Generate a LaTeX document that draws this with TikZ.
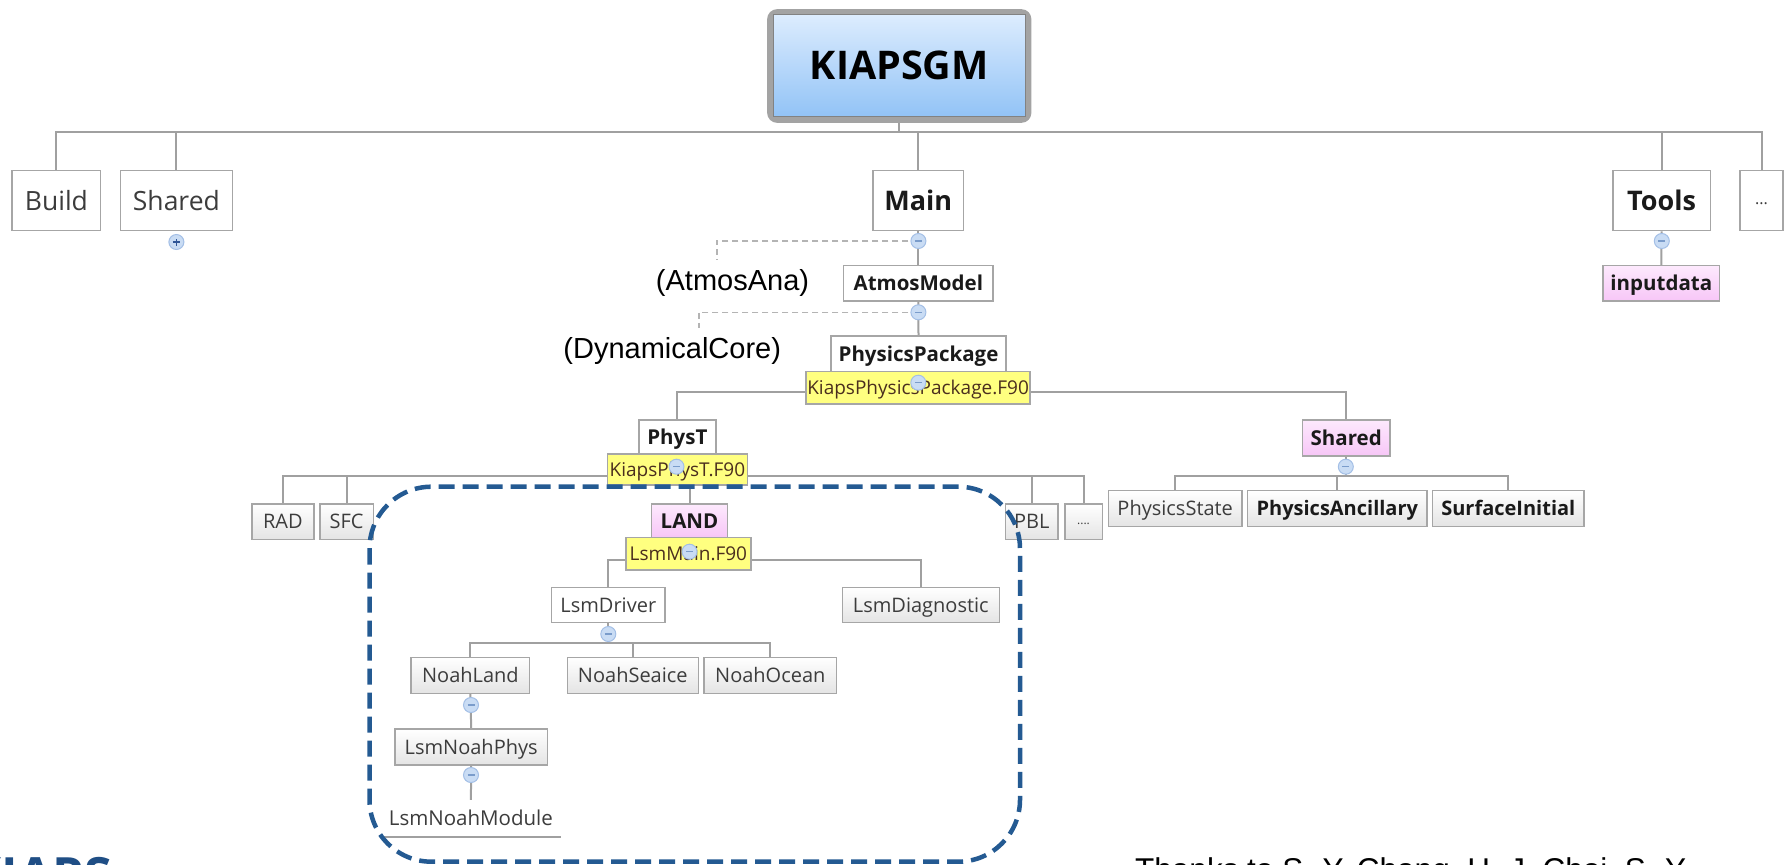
\documentclass[tikz,border=0pt]{standalone}
\usepackage{fontspec}
\setmainfont{Open Sans}
\newfontfamily\arialf{Liberation Sans}
\pgfdeclarelayer{bg}
\pgfsetlayers{bg,main}
\definecolor{bgrey}{HTML}{A6A6A6}
\definecolor{cgrey}{HTML}{A0A0A0}
\definecolor{tgrey}{HTML}{3C3C3C}
\definecolor{tblack}{HTML}{1A1A1A}
\definecolor{ggrey}{HTML}{E4E4E4}
\definecolor{ptop}{HTML}{FDE9FD}
\definecolor{pbot}{HTML}{F7C6F7}
\definecolor{yell}{HTML}{FFFF80}
\definecolor{ytext}{HTML}{4A2E1E}
\definecolor{tfill}{HTML}{C9DCF4}
\definecolor{tborder}{HTML}{A3BFE6}
\definecolor{tsign}{HTML}{7A9CCB}
\definecolor{psign}{HTML}{2F5597}
\definecolor{fgrey}{HTML}{A3A3A3}
\definecolor{rtop}{HTML}{DCECFE}
\definecolor{rbot}{HTML}{92C3F6}
\definecolor{dblue}{HTML}{245A92}
\definecolor{dgrey}{HTML}{B4B4B4}
\definecolor{logob}{HTML}{1F4E85}
\tikzset{
  box/.style={draw=bgrey, line width=1.5, inner sep=0, text=tgrey, anchor=center},
  lvA/.style={box, fill=white, minimum height=60, text height=19, text depth=0,
    font=\fontsize{26.5}{30}\selectfont},
  lvAb/.style={lvA, text=tblack, font=\fontsize{27}{30}\selectfont\bfseries},
  wbox/.style={box, fill=white, text=tblack, text height=14.6, text depth=0,
    font=\fontsize{20.5}{24}\selectfont\bfseries},
  wboxr/.style={box, fill=white, text height=14.3, text depth=0,
    font=\fontsize{20}{24}\selectfont},
  gbox/.style={box, top color=white, bottom color=ggrey, minimum height=35.3,
    text height=14.3, text depth=0, font=\fontsize{20}{24}\selectfont},
  gboxb/.style={gbox, text=tblack, font=\fontsize{20}{24}\selectfont\bfseries},
  pbox/.style={box, top color=ptop, bottom color=pbot, text=tblack, text height=14.6,
    text depth=0, font=\fontsize{20.5}{24}\selectfont\bfseries},
  ybox/.style={box, fill=yell, text=ytext, text height=13.6, text depth=0,
    font=\fontsize{19}{22}\selectfont},
  conn/.style={draw=cgrey, line width=2},
  dashg/.style={draw=dgrey, line width=1.6, dash pattern=on 6pt off 4pt},
  toggle/.style={circle, minimum size=15, inner sep=0, fill=tfill, draw=tborder, line width=1,
    path picture={\draw[tsign, line width=1.2]
      ([xshift=-3.5pt]path picture bounding box.center) --
      ([xshift=3.5pt]path picture bounding box.center);}},
  plustog/.style={circle, minimum size=15, inner sep=0, fill=tfill, draw=tborder, line width=1,
    path picture={\draw[psign, line width=1.3]
      ([xshift=-3.5pt]path picture bounding box.center) --
      ([xshift=3.5pt]path picture bounding box.center)
      ([yshift=-3.5pt]path picture bounding box.center) --
      ([yshift=3.5pt]path picture bounding box.center);}},
  arialtxt/.style={inner sep=0, text=black, font=\arialf\fontsize{29}{32}\selectfont},
}
\begin{document}
\begin{tikzpicture}[x=1pt,y=-1pt]
\useasboundingbox (0,0) rectangle (1784,864);
\begin{pgfonlayer}{bg}
\fill[white] (0,0) rectangle (1784,864);
\end{pgfonlayer}

% root
\node[draw=fgrey, line width=5.8, rounded corners=7, minimum width=258.3, minimum height=107.8,
  inner sep=0] (rootframe) at (899.25,66) {};
\node[draw=fgrey!80!black, line width=1, top color=rtop, bottom color=rbot, inner sep=0,
  minimum width=252.6, minimum height=101.7, text=black, text height=28, text depth=0,
  font=\fontsize{39.5}{42}\selectfont\bfseries] (root) at (899.3,65.85) {KIAPSGM};

% level 1
\node[lvA, minimum width=88.4] (build) at (56.4,200.7) {Build};
\node[lvA, minimum width=111.8] (shared1) at (176.4,200.7) {Shared};
\node[lvAb, minimum width=90.7] (main) at (918.3,200.7) {Main};
\node[lvAb, minimum width=97.5] (tools) at (1661.5,200.7) {Tools};
\node[lvA, minimum width=43, text height=8, font=\fontsize{16}{18}\selectfont] (more1) at (1761.5,200.7) {...};

% main chain
\node[wbox, minimum width=149.2, minimum height=35.3] (atmos) at (918.3,283.3) {AtmosModel};
\node[wbox, minimum width=175, minimum height=35.7] (physpkg) at (918.5,353.8) {PhysicsPackage};
\node[ybox, minimum width=223.8, minimum height=32.3] (kpp) at (918.1,387.8) {KiapsPhysicsPackage.F90};
\node[wbox, minimum width=77, minimum height=34] (physt) at (677.4,437) {PhysT};
\node[ybox, minimum width=139.7, minimum height=31] (kpt) at (677.4,469.5) {KiapsPhysT.F90};
\node[gbox, minimum width=62.3] (rad) at (282.9,521.7) {RAD};
\node[gbox, minimum width=53.6] (sfc) at (346.6,521.7) {SFC};
\node[pbox, minimum width=75.8, minimum height=33.3] (land) at (689.5,520.7) {LAND};
\node[ybox, minimum width=124.7, minimum height=32.7] (lsmmain) at (688.4,553.7) {LsmMain.F90};
\node[gbox, minimum width=52.6] (pbl) at (1031.7,521.7) {PBL};
\node[gbox, minimum width=37.5, text height=6, font=\fontsize{12}{14}\selectfont] (more2) at (1083.5,521.7) {....};
\node[wboxr, minimum width=113.3, minimum height=35] (lsmdrv) at (608.3,605.2) {LsmDriver};
\node[gbox, minimum width=157, minimum height=35] (lsmdiag) at (920.8,605.2) {LsmDiagnostic};
\node[gbox, minimum width=118.4, minimum height=36] (nland) at (470.4,675.3) {NoahLand};
\node[gbox, minimum width=131, minimum height=36] (nsea) at (632.8,675.3) {NoahSeaice};
\node[gbox, minimum width=132.7, minimum height=36] (nocean) at (770.3,675.3) {NoahOcean};
\node[gbox, minimum width=152.5, minimum height=36] (lnphys) at (471.2,747) {LsmNoahPhys};
\node[inner sep=0, minimum width=180.6, minimum height=36.7, text=tgrey, text height=14.3,
  text depth=0, font=\fontsize{20.5}{24}\selectfont] (lnmod) at (470.9,818.3) {LsmNoahModule};
\node[pbox, minimum width=87.2, minimum height=36] (shared2) at (1346.2,438) {Shared};
\node[gbox, minimum width=133.9, minimum height=35.8] (pstate) at (1175.2,508.6) {PhysicsState};
\node[gboxb, minimum width=179.5, minimum height=35.8] (panc) at (1337.3,508.6) {PhysicsAncillary};
\node[gboxb, minimum width=151.2, minimum height=35.8] (sinit) at (1508.3,508.6) {SurfaceInitial};
\node[pbox, minimum width=116.6, minimum height=35.3] (inputdata) at (1661.3,283.3) {inputdata};

% labels
\node[arialtxt, anchor=base] (atmosana) at (732.5,290) {(AtmosAna)};
\node[arialtxt, anchor=base] (dyncore) at (672.2,358.3) {(DynamicalCore)};

% toggles
\node[toggle] (t1) at (918.4,241) {};
\node[toggle] (t2) at (918.4,312.3) {};
\node[toggle] (t3) at (918.3,382.7) {};
\node[toggle] (t4) at (676.5,466.7) {};
\node[toggle] (t5) at (689.5,551.7) {};
\node[toggle] (t6) at (608.3,634) {};
\node[toggle] (t7) at (471,705) {};
\node[toggle] (t8) at (471,775) {};
\node[toggle] (t9) at (1345.8,466.7) {};
\node[toggle] (t10) at (1661.8,241) {};
\node[plustog] (t0) at (176.4,242) {};

% connectors
\begin{pgfonlayer}{bg}
\coordinate (b1) at (899.3,132.3);
\draw[conn] (root.south) -- (b1);
\draw[conn] (build.north) |- (b1) -| (more1.north);
\foreach \n in {shared1,main,tools} \draw[conn] (\n.north) -- (\n.north |- b1);
\draw[conn] (main.south) -- (atmos.north);
\draw[conn] (atmos.south) -- (physpkg.north);
\draw[conn] (tools.south) -- (inputdata.north);
\coordinate (b2) at (918.3,392.3);
\draw[conn] (physt.north) |- (b2) -| (shared2.north);
\coordinate (b3) at (677.4,476);
\draw[conn] (rad.north) |- (b3) -| (more2.north);
\foreach \n in {sfc,land,pbl} \draw[conn] (\n.north) -- (\n.north |- b3);
\coordinate (b4) at (689.5,560);
\draw[conn] (lsmdrv.north) |- (b4) -| (lsmdiag.north);
\coordinate (b5) at (608.3,643.3);
\draw[conn] (lsmdrv.south) -- (b5);
\draw[conn] (nland.north) |- (b5) -| (nocean.north);
\draw[conn] (nsea.north) -- (nsea.north |- b5);
\draw[conn] (nland.south) -- (lnphys.north);
\draw[conn] (lnphys.south) -- (lnmod.north);
\coordinate (b6) at (1346.2,476.3);
\draw[conn] (shared2.south) -- (b6);
\draw[conn] (pstate.north) |- (b6) -| (sinit.north);
\draw[conn] (panc.north) -- (panc.north |- b6);
\coordinate (da) at (716.7,260);
\draw[dashg] (t1.center) -| (da);
\coordinate (dd) at (699,327.7);
\draw[dashg] (t2.center) -| (dd);
\end{pgfonlayer}
\draw[cgrey, line width=1.5] (lnmod.south west) -- (lnmod.south east);

% dashed highlight
\draw[dblue, line width=4.5, dash pattern=on 16pt off 8pt, rounded corners=62]
  (369.5,486.7) rectangle (1020,861.7);

% cut-off footer
\begin{scope}
\clip (0,0) rectangle (1784,864);
\node[inner sep=0, anchor=base east, text=logob, font=\fontsize{50}{54}\selectfont\bfseries]
  (logo) at (112,893) {KIAPS};
\node[inner sep=0, anchor=base west, text=black, font=\arialf\fontsize{31.5}{34}\selectfont]
  (thanks) at (1135,880) {Thanks to S.-Y. Chang, H.-J. Choi, S.-Y.};
\end{scope}
\end{tikzpicture}
\end{document}
